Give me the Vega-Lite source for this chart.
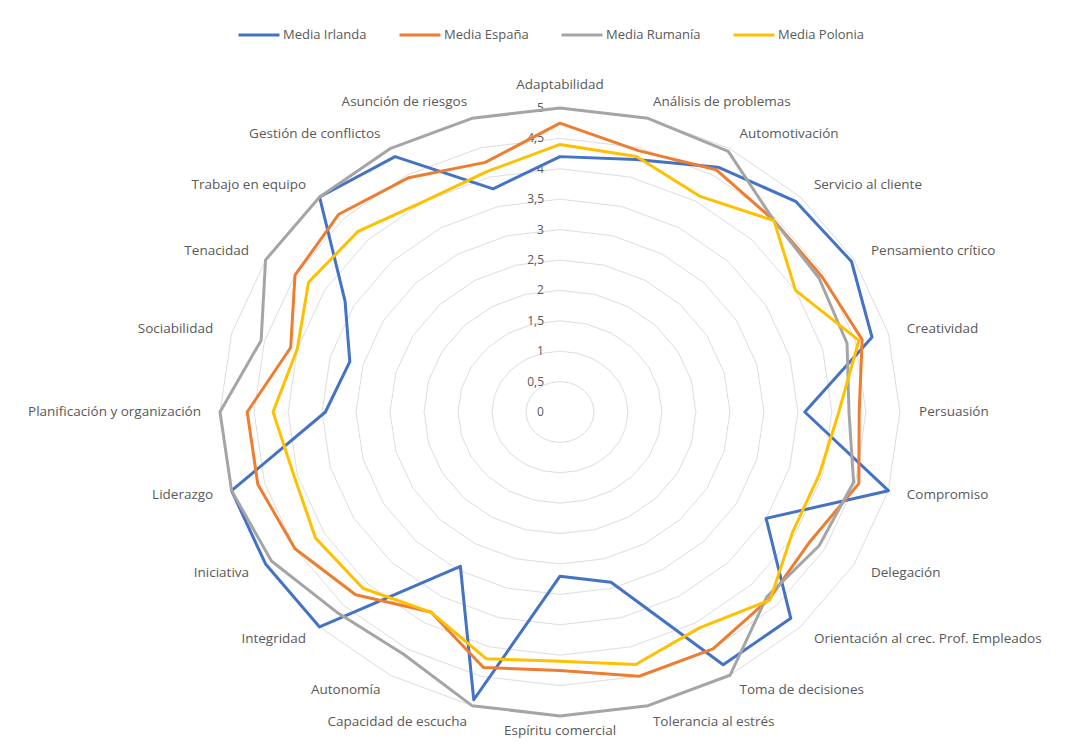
{
  "$schema": "https://vega.github.io/schema/vega-lite/v6.json",
  "width": 1066,
  "height": 745,
  "autosize": {"type": "none"},
  "padding": 0,
  "background": "white",
  "config": {
    "view": {"stroke": null},
    "font": "Open Sans",
    "locale": {"number": {"decimal": ",", "thousands": ".", "grouping": [3], "currency": ["", " €"]}}
  },
  "datasets": {
    "scores": [
      {"idx": 0, "cat": "Adaptabilidad", "Media Irlanda": 4.2, "Media España": 4.75, "Media Rumanía": 5.0, "Media Polonia": 4.4},
      {"idx": 1, "cat": "Análisis de problemas", "Media Irlanda": 4.3, "Media España": 4.45, "Media Rumanía": 5.0, "Media Polonia": 4.35},
      {"idx": 2, "cat": "Automotivación", "Media Irlanda": 4.65, "Media España": 4.6, "Media Rumanía": 4.95, "Media Polonia": 4.1},
      {"idx": 3, "cat": "Servicio al cliente", "Media Irlanda": 4.9, "Media España": 4.45, "Media Rumanía": 4.45, "Media Polonia": 4.45},
      {"idx": 4, "cat": "Pensamiento crítico", "Media Irlanda": 4.95, "Media España": 4.45, "Media Rumanía": 4.4, "Media Polonia": 4.0},
      {"idx": 5, "cat": "Creatividad", "Media Irlanda": 4.75, "Media España": 4.6, "Media Rumanía": 4.37, "Media Polonia": 4.55},
      {"idx": 6, "cat": "Persuasión", "Media Irlanda": 3.6, "Media España": 4.4, "Media Rumanía": 4.25, "Media Polonia": 4.1},
      {"idx": 7, "cat": "Compromiso", "Media Irlanda": 5.0, "Media España": 4.55, "Media Rumanía": 4.47, "Media Polonia": 3.95},
      {"idx": 8, "cat": "Delegación", "Media Irlanda": 3.5, "Media España": 4.25, "Media Rumanía": 4.4, "Media Polonia": 3.95},
      {"idx": 9, "cat": "Orientación al crec. Prof. Empleados", "Media Irlanda": 4.8, "Media España": 4.35, "Media Rumanía": 4.3, "Media Polonia": 4.37},
      {"idx": 10, "cat": "Toma de decisiones", "Media Irlanda": 4.8, "Media España": 4.5, "Media Rumanía": 5.0, "Media Polonia": 4.1},
      {"idx": 11, "cat": "Tolerancia al estrés", "Media Irlanda": 2.9, "Media España": 4.5, "Media Rumanía": 5.0, "Media Polonia": 4.3},
      {"idx": 12, "cat": "Espíritu comercial", "Media Irlanda": 2.7, "Media España": 4.25, "Media Rumanía": 5.0, "Media Polonia": 4.1},
      {"idx": 13, "cat": "Capacidad de escucha", "Media Irlanda": 4.9, "Media España": 4.35, "Media Rumanía": 5.0, "Media Polonia": 4.2},
      {"idx": 14, "cat": "Autonomía", "Media Irlanda": 2.93, "Media España": 3.8, "Media Rumanía": 4.6, "Media Polonia": 3.8},
      {"idx": 15, "cat": "Integridad", "Media Irlanda": 5.0, "Media España": 4.25, "Media Rumanía": 4.65, "Media Polonia": 4.1},
      {"idx": 16, "cat": "Iniciativa", "Media Irlanda": 5.0, "Media España": 4.5, "Media Rumanía": 4.9, "Media Polonia": 4.15},
      {"idx": 17, "cat": "Liderazgo", "Media Irlanda": 5.0, "Media España": 4.6, "Media Rumanía": 5.0, "Media Polonia": 4.05},
      {"idx": 18, "cat": "Planificación y organización", "Media Irlanda": 3.45, "Media España": 4.6, "Media Rumanía": 5.0, "Media Polonia": 4.22},
      {"idx": 19, "cat": "Sociabilidad", "Media Irlanda": 3.2, "Media España": 4.1, "Media Rumanía": 4.55, "Media Polonia": 4.0},
      {"idx": 20, "cat": "Tenacidad", "Media Irlanda": 3.65, "Media España": 4.5, "Media Rumanía": 5.0, "Media Polonia": 4.27},
      {"idx": 21, "cat": "Trabajo en equipo", "Media Irlanda": 5.0, "Media España": 4.6, "Media Rumanía": 5.0, "Media Polonia": 4.2},
      {"idx": 22, "cat": "Gestión de conflictos", "Media Irlanda": 4.85, "Media España": 4.45, "Media Rumanía": 5.0, "Media Polonia": 4.0},
      {"idx": 23, "cat": "Asunción de riesgos", "Media Irlanda": 3.8, "Media España": 4.25, "Media Rumanía": 5.0, "Media Polonia": 4.1}
    ],
    "levels": [
      {"level": 0}, {"level": 0.5}, {"level": 1}, {"level": 1.5}, {"level": 2}, {"level": 2.5},
      {"level": 3}, {"level": 3.5}, {"level": 4}, {"level": 4.5}, {"level": 5}
    ]
  },
  "layer": [
    {
      "data": {"name": "levels"},
      "transform": [{"filter": "datum.level > 0"}],
      "mark": {
        "type": "point",
        "shape": "M0,-1 L0.2894,-0.9659 L0.559,-0.866 L0.7906,-0.7071 L0.9682,-0.5 L1.0799,-0.2588 L1.118,0 L1.0799,0.2588 L0.9682,0.5 L0.7906,0.7071 L0.559,0.866 L0.2894,0.9659 L0,1 L-0.2894,0.9659 L-0.559,0.866 L-0.7906,0.7071 L-0.9682,0.5 L-1.0799,0.2588 L-1.118,0 L-1.0799,-0.2588 L-0.9682,-0.5 L-0.7906,-0.7071 L-0.559,-0.866 L-0.2894,-0.9659 Z",
        "filled": false,
        "stroke": "#DDDDDD",
        "strokeWidth": 1,
        "opacity": 1
      },
      "encoding": {
        "x": {"datum": 0, "type": "quantitative", "scale": {"domain": [-8.2353, 7.4412], "nice": false, "zero": false}, "axis": null},
        "y": {"datum": 0, "type": "quantitative", "scale": {"domain": [-5.477, 6.776], "nice": false, "zero": false}, "axis": null},
        "size": {"field": "level", "type": "quantitative", "scale": {"type": "pow", "exponent": 2, "domain": [0, 5], "range": [0, 369664]}, "legend": null}
      }
    },
    {
      "data": {"name": "levels"},
      "mark": {"type": "text", "align": "right", "baseline": "middle", "dx": -16, "fontSize": 12, "fill": "#595959"},
      "encoding": {
        "x": {"datum": 0, "type": "quantitative"},
        "y": {"field": "level", "type": "quantitative"},
        "text": {"field": "level", "type": "quantitative", "format": "~g"}
      }
    },
    {
      "data": {"name": "scores"},
      "transform": [
        {"fold": ["Media Irlanda", "Media España", "Media Rumanía", "Media Polonia"], "as": ["series", "value"]},
        {"calculate": "datum.idx * PI / 12", "as": "theta"},
        {"calculate": "datum.value * sin(datum.theta)", "as": "px"},
        {"calculate": "datum.value * cos(datum.theta)", "as": "py"}
      ],
      "mark": {"type": "line", "interpolate": "linear-closed", "strokeWidth": 3, "strokeJoin": "round"},
      "encoding": {
        "x": {"field": "px", "type": "quantitative"},
        "y": {"field": "py", "type": "quantitative"},
        "order": {"field": "idx", "type": "quantitative"},
        "color": {
          "field": "series",
          "type": "nominal",
          "scale": {"domain": ["Media Irlanda", "Media España", "Media Rumanía", "Media Polonia"], "range": ["#4472C4", "#ED7D31", "#A5A5A5", "#FFC000"]},
          "legend": {
            "title": null,
            "orient": "none",
            "legendX": 237,
            "legendY": 13,
            "direction": "horizontal",
            "symbolType": "stroke",
            "symbolSize": 1681,
            "symbolStrokeWidth": 3,
            "labelFontSize": 13,
            "labelColor": "#595959",
            "labelOffset": 2,
            "columnPadding": 26
          }
        }
      }
    },
    {
      "data": {"name": "scores"},
      "transform": [
        {"filter": "datum.idx > 0 && datum.idx < 12"},
        {"calculate": "datum.idx * PI / 12", "as": "theta"},
        {"calculate": "5.28 * sin(datum.theta)", "as": "lx"},
        {"calculate": "5.28 * cos(datum.theta)", "as": "ly"}
      ],
      "mark": {"type": "text", "align": "left", "baseline": "middle", "fontSize": 13.5, "fill": "#595959"},
      "encoding": {
        "x": {"field": "lx", "type": "quantitative"},
        "y": {"field": "ly", "type": "quantitative"},
        "text": {"field": "cat"}
      }
    },
    {
      "data": {"name": "scores"},
      "transform": [
        {"filter": "datum.idx > 12"},
        {"calculate": "datum.idx * PI / 12", "as": "theta"},
        {"calculate": "5.28 * sin(datum.theta)", "as": "lx"},
        {"calculate": "5.28 * cos(datum.theta)", "as": "ly"}
      ],
      "mark": {"type": "text", "align": "right", "baseline": "middle", "fontSize": 13.5, "fill": "#595959"},
      "encoding": {
        "x": {"field": "lx", "type": "quantitative"},
        "y": {"field": "ly", "type": "quantitative"},
        "text": {"field": "cat"}
      }
    },
    {
      "data": {"name": "scores"},
      "transform": [
        {"filter": "datum.idx == 0 || datum.idx == 12"},
        {"calculate": "datum.idx * PI / 12", "as": "theta"},
        {"calculate": "datum.idx == 0 ? 5.38 : 5.25", "as": "lr"},
        {"calculate": "datum.lr * sin(datum.theta)", "as": "lx"},
        {"calculate": "datum.lr * cos(datum.theta)", "as": "ly"}
      ],
      "mark": {"type": "text", "align": "center", "baseline": "middle", "fontSize": 13.5, "fill": "#595959"},
      "encoding": {
        "x": {"field": "lx", "type": "quantitative"},
        "y": {"field": "ly", "type": "quantitative"},
        "text": {"field": "cat"}
      }
    }
  ]
}
